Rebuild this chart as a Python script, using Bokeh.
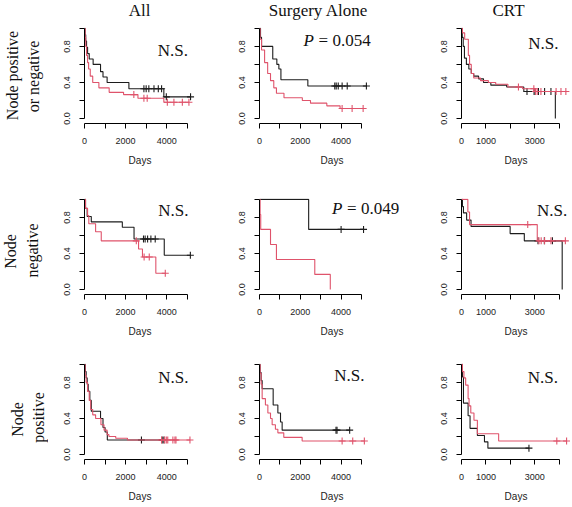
import math
from bisect import bisect_right
from bokeh.plotting import figure
from bokeh.layouts import column, row
from bokeh.models import FixedTicker, Label, Range1d
from bokeh.embed import file_html
from bokeh.resources import INLINE

# ---------------- data ----------------
col_titles = ["All", "Surgery Alone", "CRT"]
row_labels = [["Node positive", "or negative"], ["Node", "negative"], ["Node", "positive"]]
annotations = [["N.S.", "P = 0.054", "N.S."],
               ["N.S.", "P = 0.049", "N.S."],
               ["N.S.", "N.S.", "N.S."]]
x_label = "Days"
y_ticks = [0.0, 0.2, 0.4, 0.6, 0.8, 1.0]
y_tick_labels = ["0.0", "", "0.4", "", "0.8", ""]
x_ticks_wide = [0, 1000, 2000, 3000, 4000, 5000]
x_tick_labels_wide = ["0", "", "2000", "", "4000", ""]
x_ticks_crt = [0, 1000, 2000, 3000, 4000]
x_tick_labels_crt = ["0", "1000", "", "3000", ""]

# Row 1: node positive or negative
pn_all_blk_t = [0, 30, 60, 100, 150, 230, 420, 780, 900, 1100, 2160, 3860]
pn_all_blk_s = [1.0, 0.93, 0.86, 0.79, 0.72, 0.66, 0.60, 0.52, 0.46, 0.40, 0.33, 0.24]
pn_all_blk_c = [2890, 3000, 3130, 3380, 3590, 3750, 3980, 5160]
pn_all_red_t = [0, 30, 60, 100, 150, 200, 280, 400, 700, 1200, 1900, 2600, 3860]
pn_all_red_s = [1.0, 0.9, 0.8, 0.7, 0.62, 0.55, 0.47, 0.40, 0.34, 0.29, 0.265, 0.225, 0.18]
pn_all_red_c = [2400, 2890, 3050, 4030, 4350, 4760, 5080]

pn_surg_blk_t = [0, 50, 100, 650, 850, 950, 1050, 2370]
pn_surg_blk_s = [1.0, 0.9, 0.8, 0.66, 0.60, 0.55, 0.43, 0.36]
pn_surg_blk_c = [3690, 3760, 3860, 4050, 4300, 5240]
pn_surg_red_t = [0, 30, 100, 250, 400, 540, 700, 830, 1200, 2100, 2500, 3300, 3950]
pn_surg_red_s = [1.0, 0.88, 0.76, 0.62, 0.50, 0.42, 0.34, 0.28, 0.23, 0.20, 0.17, 0.14, 0.11]
pn_surg_red_c = [4050, 4540, 5080]

pn_crt_blk_t = [0, 30, 70, 120, 200, 300, 400, 500, 700, 900, 1200, 1850, 2550, 3840]
pn_crt_blk_s = [1.0, 0.9, 0.8, 0.67, 0.6, 0.55, 0.5, 0.47, 0.44, 0.40, 0.37, 0.35, 0.30, 0.0]
pn_crt_blk_c = [2680, 2970, 3020, 3150, 3400, 3660]
pn_crt_red_t = [0, 40, 130, 280, 330, 400, 500, 780, 1100, 1400, 1900, 2500, 3000]
pn_crt_red_s = [1.0, 0.95, 0.88, 0.7, 0.6, 0.5, 0.45, 0.42, 0.40, 0.38, 0.35, 0.33, 0.30]
pn_crt_red_c = [2330, 2960, 3030, 3100, 3250, 3870, 4070, 4270]

# Row 2: node negative
neg_all_blk_t = [0, 50, 130, 330, 1840, 2410, 3880]
neg_all_blk_s = [1.0, 0.9, 0.81, 0.75, 0.69, 0.56, 0.38]
neg_all_blk_c = [2870, 2950, 3070, 3230, 3440, 5150]
neg_all_red_t = [0, 50, 150, 210, 540, 815, 2630, 2820, 3470]
neg_all_red_s = [1.0, 0.9, 0.82, 0.73, 0.64, 0.54, 0.45, 0.36, 0.18]
neg_all_red_c = [2520, 2900, 3150, 3930]

neg_surg_blk_t = [0, 2410]
neg_surg_blk_s = [1.0, 0.667]
neg_surg_blk_c = [4000, 5100]
neg_surg_red_t = [0, 30, 60, 540, 830, 2710, 3470]
neg_surg_red_s = [1.0, 0.833, 0.667, 0.5, 0.333, 0.167, 0.0]
neg_surg_red_c = []

neg_crt_blk_t = [0, 40, 80, 210, 390, 1990, 2570, 4120]
neg_crt_blk_s = [1.0, 0.92, 0.85, 0.77, 0.70, 0.62, 0.54, 0.0]
neg_crt_blk_c = [3130, 3390, 3720]
neg_crt_red_t = [0, 260, 330, 3100]
neg_crt_red_s = [1.0, 0.86, 0.72, 0.54]
neg_crt_red_c = [2710, 3170, 3260, 3400, 3660, 4250]

# Row 3: node positive
pos_all_blk_t = [0, 40, 80, 130, 180, 260, 330, 780, 900, 1000, 1110]
pos_all_blk_s = [1.0, 0.92, 0.85, 0.78, 0.70, 0.6, 0.48, 0.40, 0.30, 0.25, 0.16]
pos_all_blk_c = [2770, 3780, 3860]
pos_all_red_t = [0, 30, 80, 150, 230, 300, 400, 540, 800, 950, 1100, 1190, 1520, 2090]
pos_all_red_s = [1.0, 0.88, 0.8, 0.7, 0.6, 0.5, 0.44, 0.4, 0.33, 0.27, 0.22, 0.2, 0.18, 0.16]
pos_all_red_c = [3750, 3900, 3980, 4050, 4300, 4400, 4450, 5130]

pos_surg_blk_t = [0, 30, 80, 130, 670, 900, 1030, 1110]
pos_surg_blk_s = [1.0, 0.91, 0.82, 0.73, 0.55, 0.46, 0.36, 0.27]
pos_surg_blk_c = [3750, 3800, 4420]
pos_surg_red_t = [0, 30, 80, 130, 290, 410, 540, 620, 780, 900, 1190, 2090]
pos_surg_red_s = [1.0, 0.9, 0.78, 0.62, 0.55, 0.46, 0.40, 0.33, 0.28, 0.24, 0.19, 0.15]
pos_surg_red_c = [4050, 4570, 5140]

pos_crt_blk_t = [0, 40, 80, 270, 350, 650, 940, 1080]
pos_crt_blk_s = [1.0, 0.86, 0.57, 0.43, 0.29, 0.21, 0.14, 0.07]
pos_crt_blk_c = [2760]
pos_crt_red_t = [0, 40, 100, 170, 270, 310, 380, 510, 650, 1520]
pos_crt_red_s = [1.0, 0.92, 0.85, 0.77, 0.62, 0.54, 0.46, 0.38, 0.23, 0.15]
pos_crt_red_c = [3900, 4300]

panels = [
    [((pn_all_blk_t, pn_all_blk_s, pn_all_blk_c), (pn_all_red_t, pn_all_red_s, pn_all_red_c)),
     ((pn_surg_blk_t, pn_surg_blk_s, pn_surg_blk_c), (pn_surg_red_t, pn_surg_red_s, pn_surg_red_c)),
     ((pn_crt_blk_t, pn_crt_blk_s, pn_crt_blk_c), (pn_crt_red_t, pn_crt_red_s, pn_crt_red_c))],
    [((neg_all_blk_t, neg_all_blk_s, neg_all_blk_c), (neg_all_red_t, neg_all_red_s, neg_all_red_c)),
     ((neg_surg_blk_t, neg_surg_blk_s, neg_surg_blk_c), (neg_surg_red_t, neg_surg_red_s, neg_surg_red_c)),
     ((neg_crt_blk_t, neg_crt_blk_s, neg_crt_blk_c), (neg_crt_red_t, neg_crt_red_s, neg_crt_red_c))],
    [((pos_all_blk_t, pos_all_blk_s, pos_all_blk_c), (pos_all_red_t, pos_all_red_s, pos_all_red_c)),
     ((pos_surg_blk_t, pos_surg_blk_s, pos_surg_blk_c), (pos_surg_red_t, pos_surg_red_s, pos_surg_red_c)),
     ((pos_crt_blk_t, pos_crt_blk_s, pos_crt_blk_c), (pos_crt_red_t, pos_crt_red_s, pos_crt_red_c))],
]

# ---------------- layout / style ----------------
BLACK = "#1c1c1c"
RED = "#DF536B"
AXIS = "#000000"
TXT = "#111111"
SERIF = "Liberation Serif"
SANS = "Liberation Sans"

TOTAL_W = 570
TITLE_H = 22          # strip holding the column titles
LABEL_W = 48          # strip holding the row labels
col_geom = [(36, 111, 5), (59, 145, 0), (57, 109, 0)]   # left border, frame width, right border
col_xend = [5400, 7108, 4460]
row_geom = [(5, 96, 55), (20, 96, 52), (17, 96, 47)]     # top border, frame height, bottom border
Y_RANGE = (-0.056, 1.01)
PANELS_H = sum(sum(g) for g in row_geom)
# annotation anchor (time, survival) per panel
ann_pos = [[(4300, 0.75), (2160, 0.87), (3350, 0.83)],
           [(4320, 0.88), (3560, 0.90), (3710, 0.88)],
           [(4320, 0.85), (4410, 0.875), (3330, 0.85)]]
# column title centres in the title strip (px)
title_xy = [(139, 10), (318, 10), (508, 10)]
# row label centres in the label strip (px, y measured from the top of the strip)
row_label_xy = [[(12, 53), (33, 54)],
                [(10, 229), (31.5, 228)],
                [(17, 397), (38, 395)]]


def draw_curve(p, t, s, cens, color):
    end = max([t[-1]] + list(cens))
    xs = list(t) + [end]
    ys = list(s) + [s[-1]]
    p.step(xs, ys, mode="after", line_color=color, line_width=1.1)
    if cens:
        cy = [s[bisect_right(t, c) - 1] for c in cens]
        p.scatter(cens, cy, marker="cross", size=7, line_color=color, line_width=1.1)


def blank_fig(w, h):
    f = figure(width=w, height=h, x_range=Range1d(0, w), y_range=Range1d(h, 0),
               x_axis_type=None, y_axis_type=None, min_border=0,
               output_backend="svg", toolbar_location=None)
    f.outline_line_color = None
    f.background_fill_color = None
    f.border_fill_color = None
    f.grid.visible = False
    return f


# title strip
title_fig = blank_fig(TOTAL_W, TITLE_H)
for txt, (tx, ty) in zip(col_titles, title_xy):
    title_fig.add_layout(Label(x=tx, y=ty, text=txt, text_font=SERIF, text_font_size="17px",
                               text_align="center", text_baseline="middle", text_color=TXT))

# row-label strip
label_fig = blank_fig(LABEL_W, PANELS_H)
for lines, xys in zip(row_labels, row_label_xy):
    for txt, (lx, ly) in zip(lines, xys):
        label_fig.add_layout(Label(x=lx, y=ly, text=txt, angle=math.pi / 2,
                                   text_font=SERIF, text_font_size="16px",
                                   text_align="center", text_baseline="middle",
                                   text_color=TXT))

rows = []
for r in range(3):
    figs = []
    for c in range(3):
        lb, fw, rb = col_geom[c]
        tb, fh, bb = row_geom[r]
        p = figure(width=lb + fw + rb, height=tb + fh + bb,
                   x_range=Range1d(0, col_xend[c]), y_range=Range1d(*Y_RANGE),
                   min_border_left=lb, min_border_right=rb,
                   min_border_top=tb, min_border_bottom=bb,
                   output_backend="svg", toolbar_location=None)
        p.outline_line_color = None
        p.background_fill_color = None
        p.border_fill_color = None
        p.grid.visible = False

        xt = x_ticks_crt if c == 2 else x_ticks_wide
        xl = x_tick_labels_crt if c == 2 else x_tick_labels_wide
        xa = p.xaxis[0]
        xa.ticker = FixedTicker(ticks=xt, minor_ticks=[])
        xa.bounds = (xt[0], xt[-1])
        xa.major_label_overrides = {k: v for k, v in zip(xt, xl)}
        xa.axis_label = x_label
        ya = p.yaxis[0]
        ya.ticker = FixedTicker(ticks=y_ticks, minor_ticks=[])
        ya.bounds = (y_ticks[0], y_ticks[-1])
        ya.major_label_overrides = {k: v for k, v in zip(y_ticks, y_tick_labels)}
        ya.major_label_orientation = "parallel"
        for ax in (xa, ya):
            ax.axis_line_color = AXIS
            ax.axis_line_width = 1
            ax.major_tick_line_color = AXIS
            ax.major_tick_line_width = 1
            ax.major_tick_out = 5
            ax.major_tick_in = 0
            ax.minor_tick_line_color = None
            ax.major_label_text_font = SANS
            ax.major_label_text_font_size = "9px"
            ax.major_label_text_color = "#222222"
        xa.major_label_standoff = 9
        ya.major_label_standoff = 9
        xa.axis_label_text_font = SANS
        xa.axis_label_text_font_size = "10px"
        xa.axis_label_text_font_style = "normal"
        xa.axis_label_text_color = "#222222"
        xa.axis_label_standoff = 8

        blk, red = panels[r][c]
        draw_curve(p, *blk, BLACK)
        draw_curve(p, *red, RED)

        txt = annotations[r][c]
        ax_, ay_ = ann_pos[r][c]
        if txt.startswith("P"):
            p.add_layout(Label(x=ax_, y=ay_, text="P", text_font=SERIF, text_font_size="17px",
                               text_font_style="italic", text_align="left",
                               text_baseline="middle", text_color=TXT))
            p.add_layout(Label(x=ax_, y=ay_, x_offset=15, text=txt[1:].strip(), text_font=SERIF,
                               text_font_size="17px", text_align="left",
                               text_baseline="middle", text_color=TXT))
        else:
            p.add_layout(Label(x=ax_, y=ay_, text=txt, text_font=SERIF, text_font_size="17px",
                               text_align="center", text_baseline="middle",
                               text_color=TXT))
        figs.append(p)
    rows.append(row(*figs))

layout = column(title_fig, row(label_fig, column(*rows)))
open("out.html", "w").write(file_html(layout, INLINE))
